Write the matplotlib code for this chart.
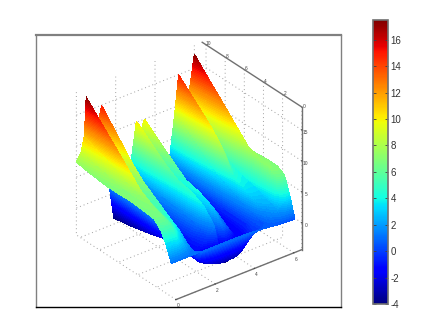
import numpy as np
import matplotlib
matplotlib.use("Agg")
import matplotlib.pyplot as plt
from matplotlib.colors import Normalize
from matplotlib.cm import ScalarMappable
from mpl_toolkits.mplot3d import proj3d

# surface, far row first
x_vals = [0, .25, .4, .5, .9, 1.28, 1.6, 1.9, 2.3, 2.7, 3.05, 3.25, 3.46, 3.8, 4.1, 4.4, 4.7, 5.0, 5.2, 5.6, 6.0, 6.28]
y_vals = [10.4, 8.84, 7.28, 6.03, 4.68, 3.33, 2.29, 1.56, 1.04, 0.47]
z_rows = [
    [7.4, 8.8, 11, 17.3, 9, 15, 3, -4, -1.5, 2, 10.2, 8, 10, 5.5, 1, -3.5, 1, 9, 15, 8.5, 17.3, 7.4],
    [7, 8, 10, 14.7, 7.5, 12, 2.5, -3.6, -1.5, 2, 8.2, 6.5, 8, 4.5, .5, -3.2, .5, 7, 12.7, 7, 14.7, 7],
    [6.7, 7.5, 9, 12.2, 6.5, 9, 2, -3, -1.2, 1.8, 6.2, 4.5, 6, 3.5, 0, -2.8, 0, 5, 10.4, 6, 12.2, 6.7],
    [6.7, 7, 8, 10.1, 6, 7, 1.5, -2.5, -1, 1.5, 5, 3.5, 4.5, 2.5, -.3, -2.5, -.3, 3.5, 8.2, 5, 10.1, 6.7],
    [6.8, 6.9, 7.2, 7.9, 5.5, 5.5, 1, -1.8, -.8, 1.2, 4.6, 2.5, 4, 2, -.5, -2.2, -.5, 2.5, 4.5, 4, 7.9, 6.8],
    [6.6, 6.8, 7, 6.6, 5, 4, .5, -1.6, -.8, .8, 3.5, 1, 3, 1.2, -1, -2, -.5, 1.5, 3.5, 3.5, 7.2, 7],
    [6.4, 6.6, 6.5, 6, 4.5, 3, 0, -1.5, -1, -.3, 1.5, -1, 1.2, 0, -1.5, -1.5, -.5, 1, 2.5, 2.8, 7, 7],
    [5.2, 5.5, 5.5, 5.5, 3.5, 1.8, -1, -2.2, -3, -3.5, -3.5, -4, -3.5, -3, -2, -1, 0, .5, 1.5, 2.5, 6, 6.3],
    [3.5, 3.5, 3.6, 4, 2.5, 1.2, -.8, -1.5, -2.5, -3, -3, -3, -3, -2.5, -1.5, -.5, 0, .5, 1, 2, 4, 3.8],
    [1, 1, 1, 1, 1, 1, 1, 1, 1, 1, 1, 1, 1, 1, .9, .8, .7, .6, .5, .4, .3, .3],
]
x_ticks = [0, 2, 4, 6]
y_ticks = [0, 2, 4, 6, 8, 10]
z_ticks = [0, 5, 10, 15]
cbar_ticks = [-4, -2, 0, 2, 4, 6, 8, 10, 12, 14, 16]

W, H = 436, 327
plt.rcParams['font.family'] = ['Liberation Sans', 'DejaVu Sans']
plt.rcParams['axes.unicode_minus'] = False
plt.rcParams['grid.color'] = '#a0a0a0'
plt.rcParams['grid.linestyle'] = (0, (1, 3))
plt.rcParams['grid.linewidth'] = 0.7

fig = plt.figure(figsize=(W / 100, H / 100), dpi=100)
norm = Normalize(-4, 17.5)


def px_rect(x0, y0, x1, y1):
    # pixel box (y down) to figure fractions
    return [x0 / W, 1 - y1 / H, (x1 - x0) / W, (y1 - y0) / H]


# 3d box only gives grid + ticks
ax = fig.add_axes(px_rect(35, 25, 335, 325), projection='3d', computed_zorder=False)
ax.patch.set_alpha(0)
ax.set_proj_type('ortho')
ax.view_init(elev=30.5, azim=-128)
ax.set_box_aspect((160, 162, 166), zoom=0.91)
ax.set_xlim(0, 6.4)
ax.set_ylim(0, 10.4)
ax.set_zlim(-4.35, 18.7)
ax.set_xticks(x_ticks)
ax.set_yticks(y_ticks)
ax.set_zticks(z_ticks)
ax.tick_params(labelsize=3.5, pad=-6, colors='#444444')
for axis in (ax.xaxis, ax.yaxis, ax.zaxis):
    axis.set_pane_color((1, 1, 1, 0))
    axis.pane.set_edgecolor('none')
    axis.line.set_color('#707070')
    axis.line.set_linewidth(1.0)
    axis._axinfo['tick']['inward_factor'] = 0
    axis._axinfo['tick']['outward_factor'] = 0.01
ax.yaxis.set_ticks_position('upper')
ax.zaxis.set_ticks_position('lower')

# project the surface to pixels
X, Y = np.meshgrid(x_vals, y_vals)
Z = np.array(z_rows, dtype=float)
ax.apply_aspect()
sx, sy, _ = proj3d.proj_transform(X.ravel(), Y.ravel(), Z.ravel(), ax.get_proj())
pix = ax.transData.transform(np.column_stack([sx, sy]))
PX = pix[:, 0].reshape(X.shape)
PY = pix[:, 1].reshape(X.shape)

frame = fig.add_axes(px_rect(36, 35, 341, 307))
frame.patch.set_alpha(0)
frame.set_xticks([])
frame.set_yticks([])
for side in ('top', 'left', 'right'):
    frame.spines[side].set_color('#808080')
frame.spines['top'].set_linewidth(1.6)
frame.spines['left'].set_linewidth(1.0)
frame.spines['right'].set_linewidth(1.0)
frame.spines['bottom'].set_color('black')
frame.spines['bottom'].set_linewidth(1.0)

# paint cell by cell, far to near; contourf keeps the jet colours clean inside a cell
levels = np.arange(-4.5, 18.01, 0.25)
for i in range(Z.shape[0] - 1):
    for j in range(Z.shape[1] - 2, -1, -1):
        frame.contourf(PX[i:i + 2, j:j + 2], PY[i:i + 2, j:j + 2], Z[i:i + 2, j:j + 2],
                       levels=levels, cmap='jet', norm=norm, antialiased=False)
frame.set_xlim(36, 341)
frame.set_ylim(H - 307, H - 35)

# colorbar
cax = fig.add_axes(px_rect(373, 20, 388, 304))
cb = fig.colorbar(ScalarMappable(norm=norm, cmap='jet'), cax=cax)
cb.set_ticks(cbar_ticks)
cb.ax.tick_params(labelsize=7, direction='in', length=2, width=0.6, left=True, right=True, pad=2, color='#404040', labelcolor='#333333')
cb.outline.set_edgecolor('#707070')
cb.outline.set_linewidth(1.2)

fig.savefig('out.png', dpi=100)
